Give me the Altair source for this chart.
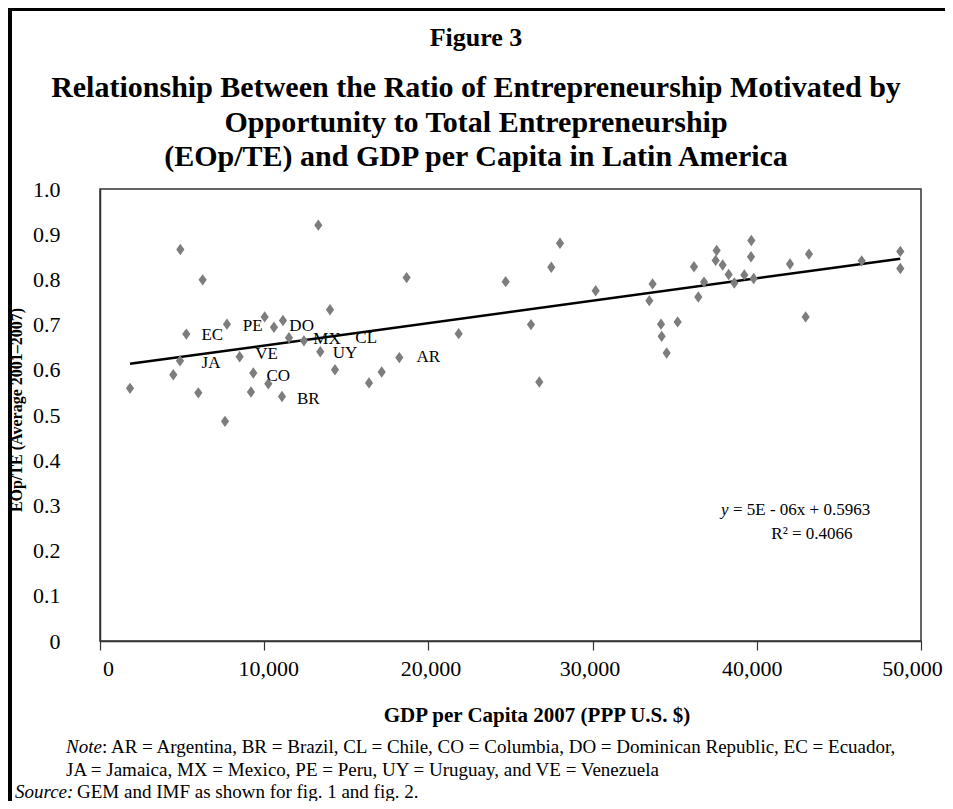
import altair as alt
import pandas as pd

# ---- data ----
gdp = [1827, 4465, 4871, 4892, 5257, 5988, 6251, 7612, 7733, 8505,
       9195, 9337, 10028, 10250, 10595, 11083, 11143, 11508, 12421, 13295,
       13416, 14006, 14310, 16382, 17155, 18228, 18672, 21844, 24706, 26248,
       26755, 27485, 28014, 30187, 33455, 33654, 34165, 34206, 34510, 35179,
       36174, 36438, 36784, 37495, 37555, 37921, 38286, 38631, 39240, 39646,
       39667, 39808, 42022, 42975, 43178, 46386, 48740, 48740]
ratio = [0.559, 0.589, 0.620, 0.866, 0.679, 0.549, 0.799, 0.486, 0.701, 0.629,
         0.551, 0.593, 0.717, 0.569, 0.694, 0.541, 0.709, 0.671, 0.664, 0.920,
         0.640, 0.733, 0.600, 0.571, 0.595, 0.627, 0.804, 0.680, 0.795, 0.700,
         0.573, 0.827, 0.880, 0.775, 0.753, 0.790, 0.701, 0.674, 0.637, 0.706,
         0.828, 0.761, 0.794, 0.842, 0.864, 0.832, 0.811, 0.792, 0.810, 0.850,
         0.886, 0.802, 0.834, 0.717, 0.856, 0.841, 0.862, 0.824]

codes = ["EC", "PE", "DO", "MX", "CL", "UY", "JA", "VE", "CO", "BR", "AR"]
code_gdp = [6840, 9297, 12280, 13824, 16210, 14919, 6760, 10149, 10859, 12686, 19993]
code_ratio = [0.676, 0.697, 0.696, 0.668, 0.671, 0.638, 0.616, 0.634, 0.587, 0.536, 0.628]

x_ticks = [0, 10000, 20000, 30000, 40000, 50000]
y_ticks = [0, 0.1, 0.2, 0.3, 0.4, 0.5, 0.6, 0.7, 0.8, 0.9, 1.0]

fig_label = "Figure 3"
title_lines = ["Relationship Between the Ratio of Entrepreneurship Motivated by",
               "Opportunity to Total Entrepreneurship",
               "(EOp/TE) and GDP per Capita in Latin America"]
x_title = "GDP per Capita 2007 (PPP U.S. $)"
y_title = "EOp/TE (Average 2001\u20132007)"
eq_text = "= 5E - 06x + 0.5963"
r2_text = "R\u00b2 = 0.4066"
eq_pos = [42690, 0.290]
r2_pos = [43360, 0.237]
note_1 = ": AR = Argentina, BR = Brazil, CL = Chile, CO = Columbia, DO = Dominican Republic, EC = Ecuador,"
note_2 = "JA = Jamaica, MX = Mexico, PE = Peru, UY = Uruguay, and VE = Venezuela"
source_txt = "GEM and IMF as shown for fig. 1 and fig. 2."

# ---- layout ----
FONT = "Liberation Serif"
W, H = 821, 452
PL, PT = 92, 181
CW, CH = 937, 793

# Excel spreads the x tick labels slightly inward from their ticks
label_shift = [8, 4, 2, -3, -5, -9]
x_label_offset = {
    "condition": [{"test": f"datum.value == {v}", "value": s}
                  for v, s in zip(x_ticks, label_shift)],
    "value": 0,
}

pts = pd.DataFrame({"gdp": gdp, "ratio": ratio})
lab = pd.DataFrame({"code": codes, "gdp": code_gdp, "ratio": code_ratio})
one = pd.DataFrame({"a": [0]})

xs = alt.Scale(domain=[0, 50000], nice=False, zero=True)
ys = alt.Scale(domain=[0, 1], nice=False)

x_axis = alt.Axis(values=x_ticks, title=None, grid=False,
                  labelExpr="datum.value == 0 ? '0' : format(datum.value / 1000, 'd') + ',000'",
                  labelOffset=x_label_offset,
                  labelFont=FONT, labelFontSize=22, labelColor="black",
                  labelFlush=False, labelOverlap=False, labelPadding=8,
                  tickSize=9, tickColor="#333", tickWidth=1.2,
                  domainColor="#333", domainWidth=1.5)
y_axis = alt.Axis(values=y_ticks, title=None, grid=False,
                  labelExpr="datum.value == 0 ? '0' : format(datum.value, '.1f')",
                  labelFont=FONT, labelFontSize=22, labelColor="black",
                  labelFlush=False, labelOverlap=False, labelPadding=40,
                  ticks=False, domainColor="#333", domainWidth=1.5)

X = alt.X("gdp:Q", scale=xs, axis=x_axis)
Y = alt.Y("ratio:Q", scale=ys, axis=y_axis)

points = alt.Chart(pts).mark_point(
    shape="M0,-1L0.72,0L0,1L-0.72,0Z", filled=True, color="#7d7d7d",
    size=130, opacity=1
).encode(x=X, y=Y)

trend = alt.Chart(pts).transform_regression("gdp", "ratio").mark_line(
    color="black", strokeWidth=2.5
).encode(x=X, y=Y)

codes_layer = alt.Chart(lab).mark_text(
    font=FONT, fontSize=17, color="black", align="center", baseline="middle"
).encode(x=X, y=Y, text="code:N")

eq_df = pd.DataFrame({"gdp": [eq_pos[0]], "ratio": [eq_pos[1]]})
r2_df = pd.DataFrame({"gdp": [r2_pos[0]], "ratio": [r2_pos[1]]})
eq_y = alt.Chart(eq_df).mark_text(
    text="y", font=FONT, fontSize=17, fontStyle="italic", color="black",
    align="left", baseline="middle", dx=-80
).encode(x=X, y=Y)
eq_rest = alt.Chart(eq_df).mark_text(
    text=eq_text, font=FONT, fontSize=17, color="black",
    align="left", baseline="middle", dx=-68
).encode(x=X, y=Y)
r2 = alt.Chart(r2_df).mark_text(
    text=r2_text, font=FONT, fontSize=17, color="black",
    align="center", baseline="middle"
).encode(x=X, y=Y)


def txt(text, x, y, size, weight="normal", style="normal", align="center", angle=0, lh=None):
    kw = dict(text=text, font=FONT, fontSize=size, fontWeight=weight, fontStyle=style,
              color="black", align=align, baseline="middle", angle=angle)
    if lh is not None:
        kw["lineHeight"] = lh
    return alt.Chart(one).mark_text(**kw).encode(x=alt.value(x), y=alt.value(y))


fig_t = txt(fig_label, 376, -151, 26, weight="bold")
main_t = txt(title_lines, 376, -101, 30, weight="bold", lh=34.5)
xt = txt(x_title, 437, 527, 21, weight="bold")
yt = txt(y_title, -83, 221, 16, weight="bold", angle=270)
note_it = txt("Note", -34, 558, 19, style="italic", align="left")
note_l1 = txt(note_1, 2, 558, 19, align="left")
note_l2 = txt(note_2, -34, 581, 19, align="left")
src_it = txt("Source:", -85, 603, 19, style="italic", align="left")
src_l = txt(source_txt, -23, 603, 19, align="left")

left_border = alt.Chart(one).mark_rule(color="black", strokeWidth=4).encode(
    x=alt.value(-PL + 2), y=alt.value(-PT), y2=alt.value(CH - PT))
top_border = alt.Chart(one).mark_rule(color="black", strokeWidth=3).encode(
    x=alt.value(-PL), x2=alt.value(CW - PL), y=alt.value(-PT + 1.5))

chart = alt.layer(
    left_border, top_border, trend, points, codes_layer, eq_y, eq_rest, r2,
    fig_t, main_t, xt, yt, note_it, note_l1, note_l2, src_it, src_l
).properties(
    width=W, height=H,
    padding={"left": PL, "top": PT, "right": CW - PL - W, "bottom": CH - PT - H},
    autosize=alt.AutoSizeParams(type="none"),
    background="white"
).configure_view(stroke="#333", strokeWidth=1.5)

chart.save("out.html", embed_options={"renderer": "svg", "actions": False})
